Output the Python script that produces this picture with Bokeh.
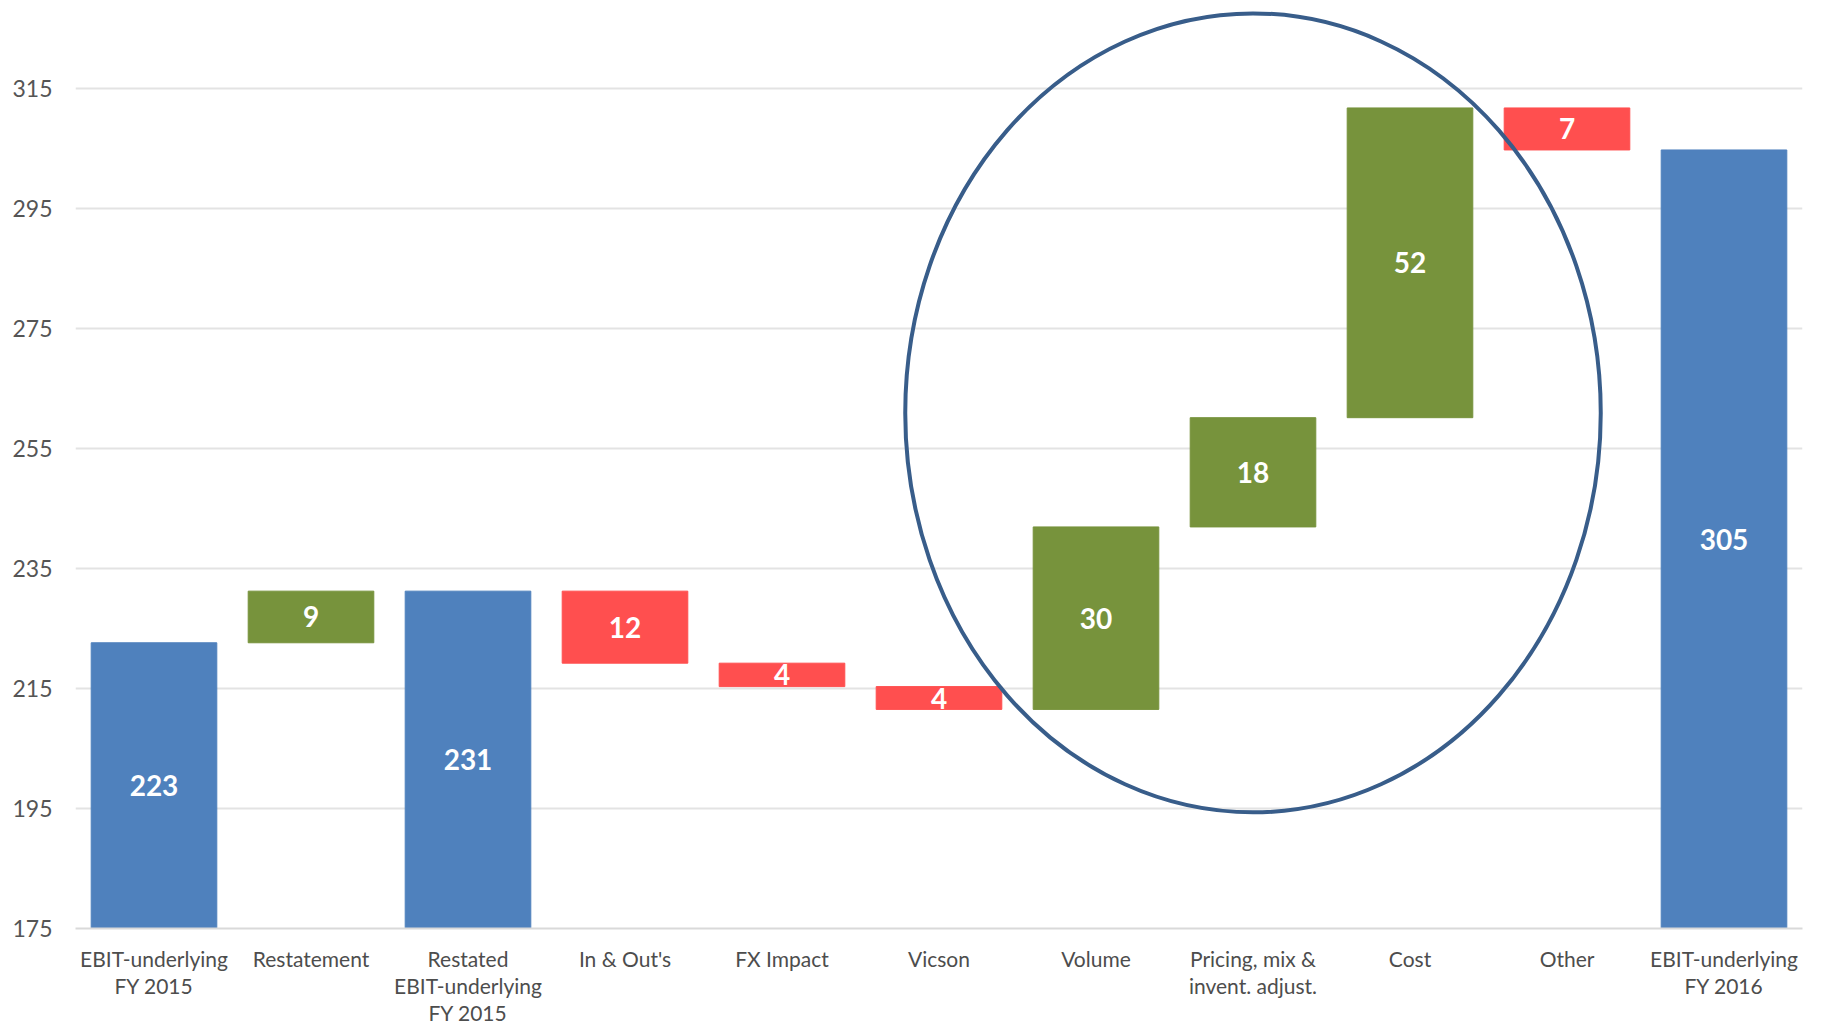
from bokeh.plotting import figure
from bokeh.models import ColumnDataSource, Range1d, FixedTicker
from bokeh.core.properties import value
from bokeh.embed import file_html
from bokeh.resources import INLINE

# EBIT bridge FY 2015 -> FY 2016
categories = [
    "EBIT-underlying\nFY 2015",
    "Restatement",
    "Restated\nEBIT-underlying\nFY 2015",
    "In & Out's",
    "FX Impact",
    "Vicson",
    "Volume",
    "Pricing, mix &\ninvent. adjust.",
    "Cost",
    "Other",
    "EBIT-underlying\nFY 2016",
]
bar_kind = ["total", "up", "total", "down", "down", "down",
            "up", "up", "up", "down", "total"]
bar_value = [222.6, 8.6, 231.2, 12.0, 3.9, 3.8, 30.4, 18.2, 51.6, 7.0, 304.7]

y_ticks = [175, 195, 215, 235, 255, 275, 295, 315]

COLORS = {"total": "#4f81bd", "up": "#77933c", "down": "#ff4f4f"}
Y_FLOOR = 175
Y_CEIL = 329.6

# running waterfall levels
bottoms, tops, level = [], [], 0.0
for kind, v in zip(bar_kind, bar_value):
    if kind == "total":
        level = v
        bottoms.append(Y_FLOOR)
        tops.append(v)
    elif kind == "up":
        bottoms.append(level)
        tops.append(level + v)
        level += v
    else:
        bottoms.append(level - v)
        tops.append(level)
        level -= v

xs = list(range(len(categories)))
src = ColumnDataSource(dict(
    x=xs,
    bottom=bottoms,
    top=tops,
    mid=[(b + t) / 2 for b, t in zip(bottoms, tops)],
    color=[COLORS[k] for k in bar_kind],
    label=[f"{v:.0f}" for v in bar_value],
))

p = figure(
    width=1822, height=1028,
    x_range=Range1d(-0.5, len(categories) - 0.5),
    y_range=Range1d(Y_FLOOR, Y_CEIL),
    output_backend="svg", toolbar_location=None,
    min_border_left=75, min_border_right=20,
    min_border_top=0, min_border_bottom=99,
)
p.background_fill_color = "white"
p.border_fill_color = "white"
p.outline_line_color = None

p.vbar(x="x", bottom="bottom", top="top", width=0.8, source=src,
       fill_color="color", line_color="color", line_width=1)

p.text(x="x", y="mid", text="label", source=src,
       text_align="center", text_baseline="middle",
       text_font=value("Lato"), text_font_style="bold",
       text_font_size="28px", text_color="white")

# highlight around the operational drivers
p.ellipse(x=7.0, y=260.9, width=4.43, height=133.1,
          fill_color=None, line_color="#385d8a", line_width=4)

# axes
p.xgrid.grid_line_color = None
p.ygrid.grid_line_color = "#e3e3e3"
p.ygrid.grid_line_width = 2
p.ygrid.ticker = FixedTicker(ticks=y_ticks)

p.yaxis.ticker = FixedTicker(ticks=y_ticks)
p.yaxis.axis_line_color = None
p.yaxis.major_tick_line_color = None
p.yaxis.minor_tick_line_color = None
p.yaxis.major_label_standoff = 17
p.yaxis.major_label_text_font = "Lato"
p.yaxis.major_label_text_font_size = "23px"
p.yaxis.major_label_text_color = "#555555"

p.xaxis.ticker = FixedTicker(ticks=xs)
p.xaxis.major_label_overrides = {i: c for i, c in enumerate(categories)}
p.xaxis.axis_line_color = "#d9d9d9"
p.xaxis.axis_line_width = 2
p.xaxis.major_tick_line_color = None
p.xaxis.minor_tick_line_color = None
p.xaxis.major_tick_out = 0
p.xaxis.major_label_standoff = 17
p.xaxis.major_label_text_font = "Lato"
p.xaxis.major_label_text_font_size = "21px"
p.xaxis.major_label_text_color = "#4d4d4d"
p.xaxis.major_label_text_line_height = 1.09

open("out.html", "w").write(file_html(p, INLINE))
